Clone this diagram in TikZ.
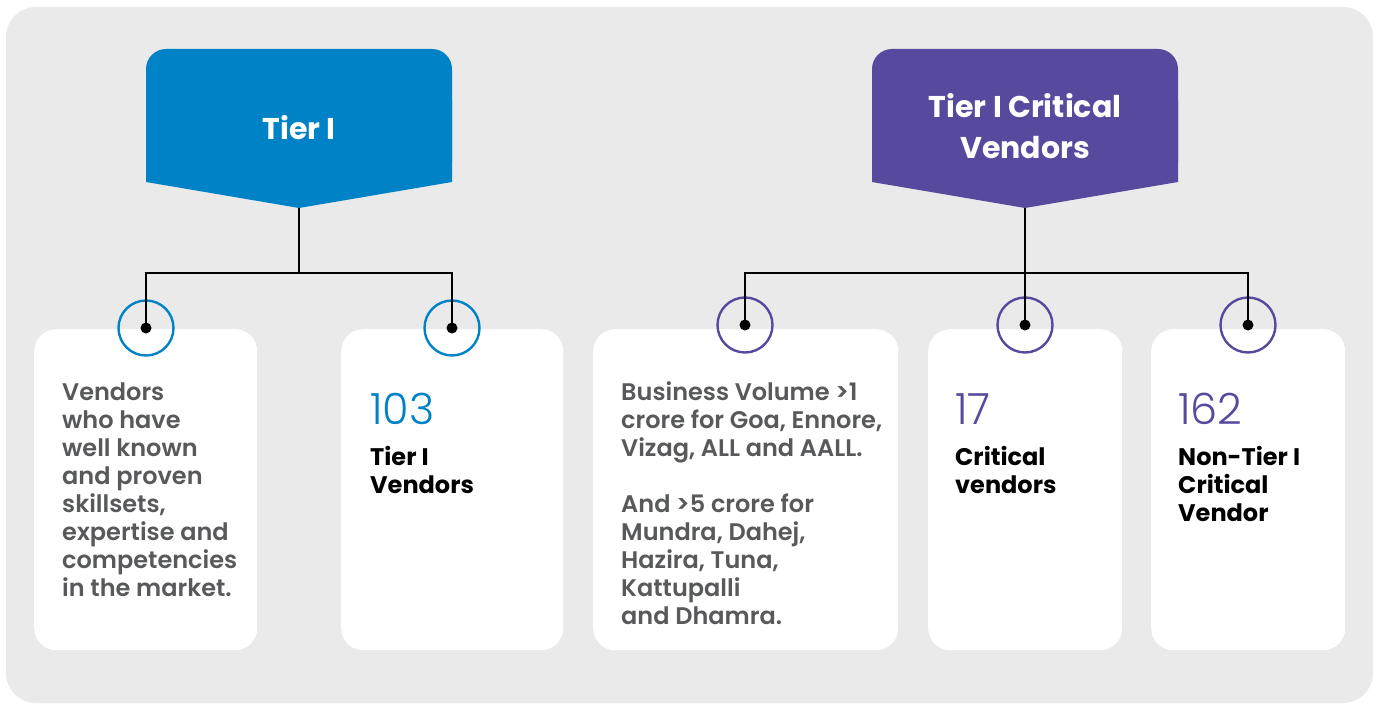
\documentclass[tikz,border=0pt]{standalone}
\usepackage{fontspec}
\setmainfont{Poppins}[BoldFont={Poppins SemiBold}]
\newfontfamily\numfont{Poppins Light}
\newfontfamily\headfont{Poppins Bold}
\definecolor{bgcol}{HTML}{EAEAEA}
\definecolor{tblue}{HTML}{0082C6}
\definecolor{tpurple}{HTML}{574A9E}
\definecolor{txtgray}{HTML}{58595B}
\begin{document}
\begin{tikzpicture}[x=1pt,y=-1pt,
  card/.style={rectangle, fill=white, rounded corners=22pt, anchor=north west, inner sep=0pt},
  ring/.style={circle, draw=#1, line width=2.4pt, minimum size=55pt, inner sep=0pt},
  conn/.style={line width=2.8pt, black, line join=miter},
  head/.style={text=white, font=\headfont\fontsize{30}{41}\selectfont, align=center, inner sep=0pt},
  body/.style={text=txtgray, font=\bfseries\fontsize{24}{28}\selectfont, align=left, anchor=north west, inner sep=0pt},
  num/.style={text=#1, font=\numfont\fontsize{43}{43}\selectfont, anchor=base west, inner sep=0pt},
  lbl/.style={text=black, font=\headfont\fontsize{24}{28}\selectfont, align=left, anchor=north west, inner sep=0pt}]
\useasboundingbox (0,0) rectangle (1379,706);
\fill[white] (0,0) rectangle (1379,706);
\fill[bgcol, rounded corners=30pt] (6,7) rectangle (1373,703);

% cards
\node[card, minimum width=223pt, minimum height=321pt] (k1) at (34,329) {};
\node[card, minimum width=222pt, minimum height=321pt] (k2) at (341,329) {};
\node[card, minimum width=305pt, minimum height=321pt] (k3) at (593,329) {};
\node[card, minimum width=194pt, minimum height=321pt] (k4) at (928,329) {};
\node[card, minimum width=194pt, minimum height=321pt] (k5) at (1151,329) {};

% header shapes
\fill[tblue, rounded corners=20pt] (146,49) rectangle (452,182);
\fill[tblue] (146,100) -- (452,100) -- (452,182) -- (299,208) -- (146,182) -- cycle;
\fill[tpurple, rounded corners=20pt] (872,49) rectangle (1178,182);
\fill[tpurple] (872,100) -- (1178,100) -- (1178,182) -- (1025,208) -- (872,182) -- cycle;
\node[head] (h1) at (299,128) {Tier I};
\node[head] (h2) at (1025,126.5) {Tier I Critical\\Vendors};

\coordinate (tip1) at (299,208);
\coordinate (j1) at (299,273);
\coordinate (tip2) at (1025,208);
\coordinate (j2) at (1025,273);

% rings
\node[ring=tblue] (r1) at (146,328) {};
\node[ring=tblue] (r2) at (452,328) {};
\node[ring=tpurple] (r3) at (745,325) {};
\node[ring=tpurple] (r4) at (1025,325) {};
\node[ring=tpurple] (r5) at (1248,325) {};

% connectors
\draw[conn] (tip1) -- (j1);
\draw[conn] (r1.center) |- (j1) -| (r2.center);
\draw[conn] (tip2) -- (r4.center);
\draw[conn] (r3.center) |- (j2) -| (r5.center);
\foreach \r in {r1,r2,r3,r4,r5} \fill[black] (\r.center) circle (5.5);

% texts
\node[body] (t1) at (62,383) {Vendors\\who have\\well known\\and proven\\skillsets,\\expertise and\\competencies\\in the market.};
\node[num=tblue] (n2) at (370,424) {103};
\node[lbl] (l2) at (370,446) {Tier I\\Vendors};
\node[body] (t3) at (621,381) {Business Volume >1\\crore for Goa, Ennore,\\Vizag, ALL and AALL.\\[28pt]And >5 crore for\\Mundra, Dahej,\\Hazira, Tuna,\\Kattupalli\\and Dhamra.};
\node[num=tpurple] (n4) at (955,424) {17};
\node[lbl] (l4) at (955,446) {Critical\\vendors};
\node[num=tpurple] (n5) at (1178,424) {162};
\node[lbl] (l5) at (1178,446) {Non-Tier I\\Critical\\Vendor};
\end{tikzpicture}
\end{document}
